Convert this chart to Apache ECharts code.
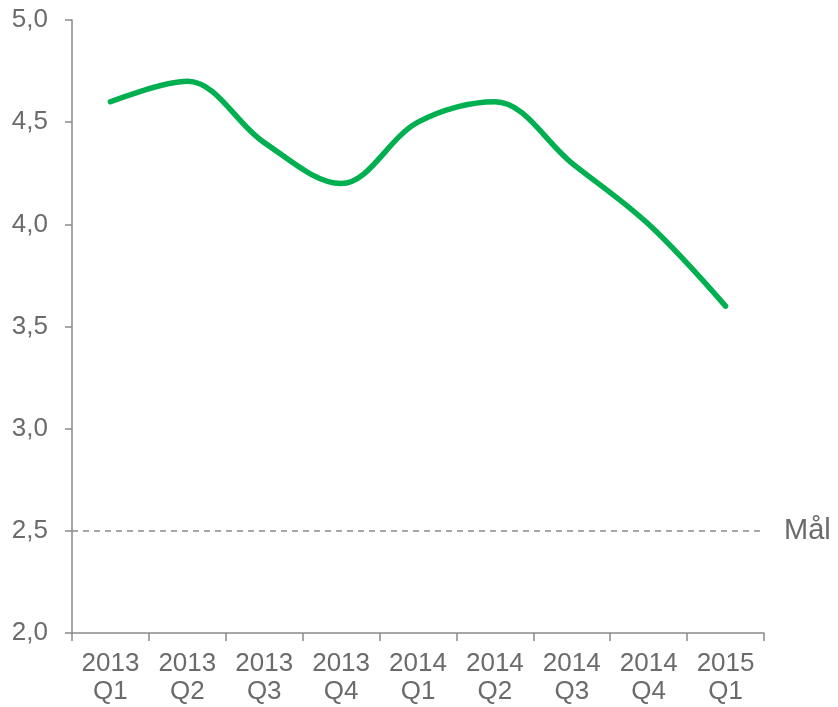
<!DOCTYPE html>
<html>
<head>
<meta charset="utf-8">
<script src="https://cdn.jsdelivr.net/npm/echarts@6/dist/echarts.min.js"></script>
<style>
  html, body { margin: 0; padding: 0; background: #fff; }
  #chart { width: 838px; height: 707px; }
</style>
</head>
<body>
<div id="chart"></div>
<script>
// kvartal och värden
const quarters = ['2013\nQ1', '2013\nQ2', '2013\nQ3', '2013\nQ4', '2014\nQ1', '2014\nQ2', '2014\nQ3', '2014\nQ4', '2015\nQ1']
const values = [4.6, 4.7, 4.4, 4.2, 4.5, 4.6, 4.3, 4.0, 3.6]
const goal = 2.5
const goalLabel = 'Mål'

const textColor = '#6b6b6b'
const axisColor = '#8a8a8a'
const font = 'Liberation Sans, Arial, sans-serif'

const chart = echarts.init(document.getElementById('chart'))
chart.setOption({
  animation: false,
  grid: { left: 72, right: 74, top: 20, bottom: 74 },
  xAxis: {
    type: 'category',
    data: quarters,
    boundaryGap: true,
    axisLine: { lineStyle: { color: axisColor, width: 1.5 } },
    axisTick: { show: true, length: 8, lineStyle: { color: axisColor, width: 1.5 } },
    axisLabel: {
      color: textColor, fontSize: 26, fontFamily: font,
      lineHeight: 28, margin: 17, interval: 0
    },
    splitLine: { show: false }
  },
  yAxis: {
    type: 'value',
    min: 2, max: 5, interval: 0.5,
    axisLine: { show: true, lineStyle: { color: axisColor, width: 1.5 } },
    axisTick: { show: true, length: 7, lineStyle: { color: axisColor, width: 1.5 } },
    axisLabel: {
      color: textColor, fontSize: 26, fontFamily: font, margin: 24,
      formatter: (v) => v.toFixed(1).replace('.', ',')
    },
    splitLine: { show: false }
  },
  series: [
    {
      type: 'line',
      data: values,
      smooth: 0.35,
      symbol: 'none',
      lineStyle: { color: '#00b050', width: 5.5, cap: 'round' },
      markLine: {
        silent: true,
        symbol: 'none',
        data: [{ yAxis: goal }],
        lineStyle: { color: '#8a8a8a', type: [6, 5], width: 1.5 },
        label: {
          show: true, position: 'end', distance: 20,
          formatter: goalLabel,
          color: textColor, fontSize: 29, fontFamily: font
        }
      }
    }
  ]
})
</script>
</body>
</html>
